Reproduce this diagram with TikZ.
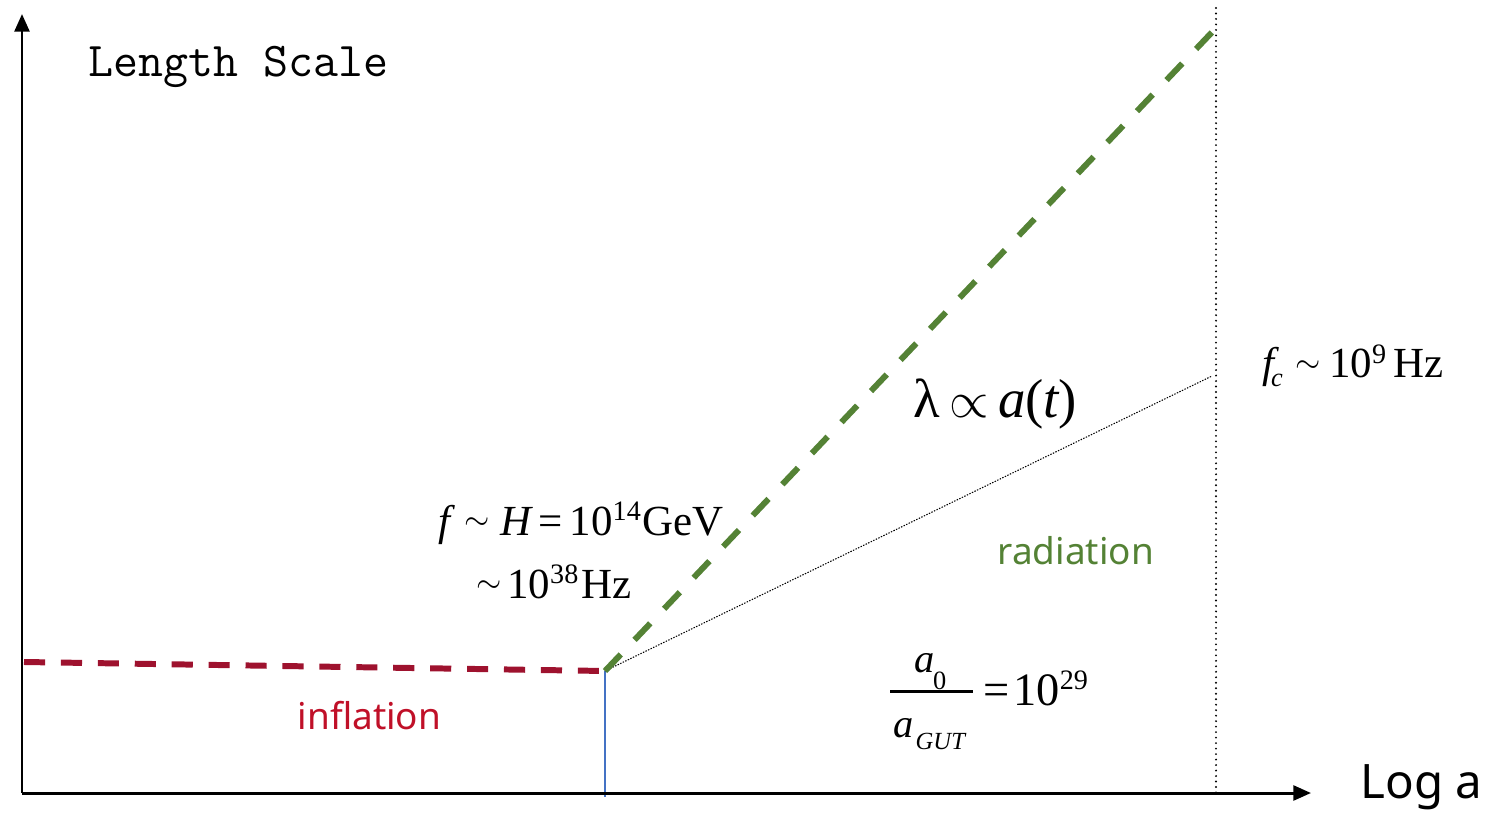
\documentclass[tikz,border=0pt]{standalone}
\usepackage{fontspec}
\setmainfont{Liberation Serif}
\setsansfont{Noto Sans}
\usetikzlibrary{arrows.meta}
\definecolor{infred}{RGB}{158,18,46}
\definecolor{inftext}{RGB}{192,16,40}
\definecolor{radgreen}{RGB}{84,130,53}
\definecolor{gutblue}{RGB}{68,114,196}
\newcommand{\up}[1]{\raisebox{0.75ex}{\fontsize{8}{9}\selectfont #1}}
\newcommand{\dn}[1]{\raisebox{-0.45ex}{\fontsize{7.5}{8}\selectfont #1}}
\newcommand{\tld}{\raisebox{0.12em}{\fontsize{9}{9}\selectfont$\sim$}}

\begin{document}
\begin{tikzpicture}[
    x=0.01cm, y=-0.01cm,
    axis/.style={line width=0.85pt,-{Triangle[length=5pt,width=4.2pt]}},
    inflate/.style={line width=1.7pt,draw=infred,dash pattern=on 6pt off 4.5pt},
    radiate/.style={line width=1.7pt,draw=radgreen,dash pattern=on 6.5pt off 5.7pt},
    today/.style={line width=0.6pt,line cap=round,dash pattern=on 0pt off 1.56pt},
    mode/.style={line width=0.3pt,dash pattern=on 0.4pt off 0.4pt},
    eqn/.style={inner sep=0pt,anchor=base west,font=\fontsize{12.2}{15}\selectfont},
    era/.style={inner sep=0pt,anchor=base west,font=\sffamily\fontsize{10.5}{13}\selectfont}
  ]
    \useasboundingbox (0,0) rectangle (1486,813);

    % axes and reference points
    \coordinate (origin) at (22,793);
    \coordinate (ytop) at (22,14);
    \coordinate (xend) at (1311,793);
    \coordinate (start) at (24,662);
    \coordinate (gut) at (605,671);
    \coordinate (gutbot) at (605,797);
    \coordinate (horizon) at (1216,28);
    \coordinate (cutoff) at (1212,376);
    \coordinate (nowtop) at (1216,8);
    \coordinate (nowbot) at (1216,793);
    \coordinate (barl) at (890,691);
    \coordinate (barr) at (973,691);

    \draw[gutblue,line width=0.5pt] (gut) -- (gutbot);
    \draw[today] (nowtop) -- (nowbot);
    \draw[axis] (origin) -- (ytop);
    \draw[axis] (origin) -- (xend);

    \draw[inflate] (start) -- (gut);
    \draw[mode] (gut) -- (cutoff);
    \draw[radiate] (gut) -- (horizon);

    % labels
    \node[inner sep=0pt,anchor=base west,font=\ttfamily\fontsize{13.8}{16}\selectfont] (ylabel) at (88,77) {Length Scale};
    \node[era,font=\sffamily\fontsize{13.5}{16}\selectfont] (xlabel) at (1360,798) {Log a};
    \node[era,text=inftext] (inflation) at (297,729) {inflation};
    \node[era,text=radgreen] (radiation) at (997,564) {radiation};

    \node[eqn] (hubble) at (438,535) {{\itshape f}\kern4pt\tld\kern3pt{\itshape H}\kern2pt=\kern2pt10\up{14}\kern0.5pt GeV};
    \node[eqn] (planck) at (476,598) {\tld\kern1.5pt10\up{38}\kern1pt Hz};
    \node[eqn,font=\fontsize{15.6}{18}\selectfont] (scaling) at (913,418) {λ\,$\propto$\,{\itshape a}({\itshape t})};
    \node[eqn] (cutfreq) at (1262,378) {{\itshape f}\kern-1pt\dn{\itshape c}\kern3.5pt\tld\kern2.5pt10\up{9}\kern2pt Hz};

    % a0 / aGUT = 10^29
    \node[eqn,font=\fontsize{11.5}{14}\selectfont] (anow) at (914,672) {{\itshape a}\kern-0.5pt\raisebox{-0.95ex}{\fontsize{7.5}{8}\selectfont 0}};
    \node[eqn,font=\fontsize{11.5}{14}\selectfont] (agut) at (893,737) {{\itshape a}\kern0.5pt\raisebox{-0.7ex}{\fontsize{7}{8}\selectfont\itshape GUT}};
    \draw[line width=0.85pt] (barl) -- (barr);
    \node[eqn,font=\fontsize{13.2}{16}\selectfont] (power) at (983,705) {=\kern1pt10\up{29}};
  \end{tikzpicture}
\end{document}
